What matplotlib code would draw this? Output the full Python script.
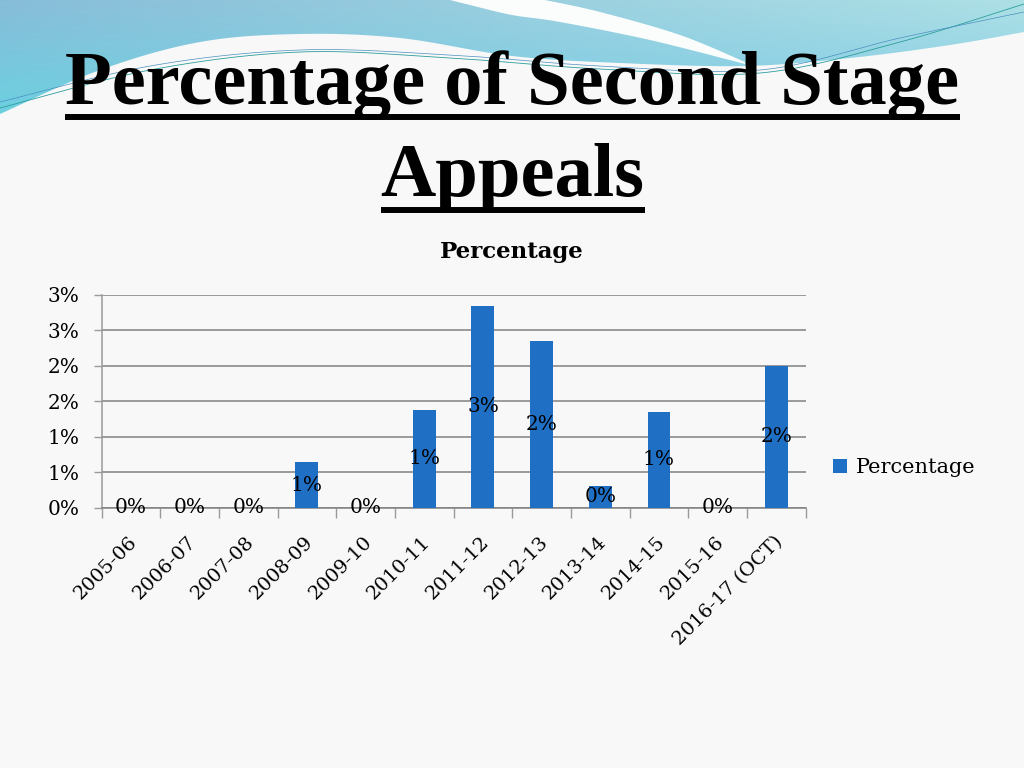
import math
import numpy as np
import matplotlib
matplotlib.use("Agg")
import matplotlib.pyplot as plt
from matplotlib.path import Path
from matplotlib.patches import PathPatch
from matplotlib.ticker import FuncFormatter, MultipleLocator, FixedLocator
from matplotlib.transforms import ScaledTranslation

# ---------------- data ----------------
categories = ['2005-06', '2006-07', '2007-08', '2008-09', '2009-10', '2010-11',
              '2011-12', '2012-13', '2013-14', '2014-15', '2015-16', '2016-17 (OCT)']
values = [0.0, 0.0, 0.0, 0.64, 0.0, 1.38, 2.845, 2.35, 0.306, 1.35, 0.0, 2.0]
series_name = 'Percentage'
chart_title = 'Percentage'
title_lines = ['Percentage of Second Stage', 'Appeals']

W, H = 1024, 768
fig = plt.figure(figsize=(W / 100, H / 100), dpi=100)
fig.patch.set_facecolor('#f8f8f8')

# ---------------- background decoration ----------------
bg = fig.add_axes([0, 0, 1, 1], zorder=0)
bg.set_xlim(0, W)
bg.set_ylim(H, 0)
bg.axis('off')


def catmull(pts, n=20):
    pts = np.asarray(pts, float)
    P = np.vstack([pts[0], pts, pts[-1]])
    out = []
    for i in range(1, len(P) - 2):
        p0, p1, p2, p3 = P[i - 1], P[i], P[i + 1], P[i + 2]
        for t in np.linspace(0, 1, n, endpoint=False):
            t2, t3 = t * t, t * t * t
            out.append(0.5 * ((2 * p1) + (-p0 + p2) * t + (2 * p0 - 5 * p1 + 4 * p2 - p3) * t2
                              + (-p0 + 3 * p1 - 3 * p2 + p3) * t3))
    out.append(P[-2])
    return np.array(out)


lower = catmull([(0, 114), (100, 70), (200, 42), (300, 34), (400, 38), (512, 56),
                 (620, 63), (745, 66), (850, 58), (950, 45), (1024, 32)])
blue_pts = np.vstack([[(0, 0)], lower, [(1024, 0)]])
blue_path = Path(np.vstack([blue_pts, blue_pts[:1]]), closed=True)

# gradient image
gx = np.linspace(0, 1, 200)[None, :, None]
gy = np.linspace(0, 1, 60)[:, None, None]
tl = np.array([0.53, 0.74, 0.85]); bl = np.array([0.42, 0.82, 0.88])
tr = np.array([0.68, 0.88, 0.90]); br = np.array([0.52, 0.80, 0.91])
img = (tl * (1 - gx) * (1 - gy) + tr * gx * (1 - gy) + bl * (1 - gx) * gy + br * gx * gy)
im = bg.imshow(img, extent=[0, W, 120, 0], aspect='auto', zorder=1, interpolation='bilinear')
clip = PathPatch(blue_path, transform=bg.transData, facecolor='none', edgecolor='none')
bg.add_patch(clip)
im.set_clip_path(clip)

# white swoosh band
band_up = catmull([(545, 0), (600, 12), (680, 35), (745, 62)])
band_lo = catmull([(745, 64), (650, 40), (560, 22), (512, 15), (470, 5), (450, 0)])
band = np.vstack([band_up, band_lo])
bg.fill(band[:, 0], band[:, 1], color='#fbfdfd', zorder=2, lw=0)

# thin teal lines
l1 = catmull([(0, 108), (150, 70), (300, 52), (450, 58), (600, 69), (760, 73), (900, 42), (1024, 4)])
l2 = catmull([(0, 102), (150, 66), (300, 50), (450, 55), (600, 66), (760, 70), (900, 38), (1024, 12)])
bg.plot(l1[:, 0], l1[:, 1], color='#2b9e9c', lw=0.6, zorder=3)
bg.plot(l2[:, 0], l2[:, 1], color='#4a90c0', lw=0.5, zorder=3)

# ---------------- main title ----------------
renderer = fig.canvas.get_renderer()
tfont = dict(family='Liberation Serif', weight='bold')
t1 = fig.text(512.5 / W, 1 - 104 / H, title_lines[0], ha='center', va='baseline', fontsize=55, **tfont)
w = t1.get_window_extent(renderer).width
fs = 55 * 895 / w
t1.set_fontsize(fs)
t2 = fig.text(512.5 / W, 1 - 196 / H, title_lines[1], ha='center', va='baseline', fontsize=fs, **tfont)
for t, uy in ((t1, 116.5), (t2, 209.5)):
    bb = t.get_window_extent(renderer)
    bg.plot([bb.x0, bb.x1], [uy, uy], color='black', lw=4.3, solid_capstyle='butt', zorder=5)

# ---------------- chart ----------------
cfont = 'DejaVu Serif'
x0, x1, yb, yt = 101.5, 805.7, 507.7, 295.0
ax = fig.add_axes([x0 / W, 1 - yb / H, (x1 - x0) / W, (yb - yt) / H], zorder=2)
ax.patch.set_alpha(0)

x = np.arange(len(categories))
bars = ax.bar(x, values, width=0.39, color='#1f6fc5', zorder=3, label=series_name)

ax.set_xlim(-0.5, len(categories) - 0.5)
ax.set_ylim(0, 3.0)


def pct(v, pos=None):
    return f"{int(math.floor(v + 0.5 + 1e-9))}%"


ax.yaxis.set_major_locator(MultipleLocator(0.5))
ax.yaxis.set_major_formatter(FuncFormatter(pct))
ax.yaxis.grid(True, color='#808080', lw=1.1)
ax.set_axisbelow(True)
for s in ('top', 'right'):
    ax.spines[s].set_visible(False)
ax.spines['left'].set_color('#9a9a9a')
ax.spines['left'].set_linewidth(1.1)
ax.spines['bottom'].set_color('#808080')
ax.spines['bottom'].set_linewidth(1.1)

ax.tick_params(axis='y', length=6, width=1.0, color='#9a9a9a', pad=10, labelsize=14.5)
for lab in ax.get_yticklabels():
    lab.set_family(cfont)

ax.set_xticks(x)
ax.set_xticklabels(categories)
ax.xaxis.set_minor_locator(FixedLocator(np.arange(-0.5, len(categories), 1.0)))
ax.tick_params(axis='x', which='minor', length=7, width=1.0, color='#9a9a9a')
ax.tick_params(axis='x', which='major', length=0, pad=18, labelsize=14)
off = ScaledTranslation(-3 / 100, 0, fig.dpi_scale_trans)
for lab in ax.get_xticklabels():
    lab.set_family(cfont)
    lab.set_rotation(45)
    lab.set_ha('right')
    lab.set_va('top')
    lab.set_rotation_mode('anchor')
    lab.set_transform(lab.get_transform() + off)

for xi, v in zip(x, values):
    ax.text(xi, v / 2, pct(v), ha='center', va='center', fontsize=14.5, family=cfont,
            color='black', zorder=4)

ax.legend(handles=[bars], loc='center left', bbox_to_anchor=(833 / W, 1 - 467.5 / H),
          bbox_transform=fig.transFigure, frameon=False, borderpad=0, borderaxespad=0,
          handlelength=0.65, handleheight=0.65, handletextpad=0.45,
          prop={'family': cfont, 'size': 15})

fig.text(512 / W, 1 - 252 / H, chart_title, ha='center', va='center', fontsize=16.5,
         weight='bold', family=cfont)

fig.savefig('out.png', dpi=100, facecolor=fig.get_facecolor())
